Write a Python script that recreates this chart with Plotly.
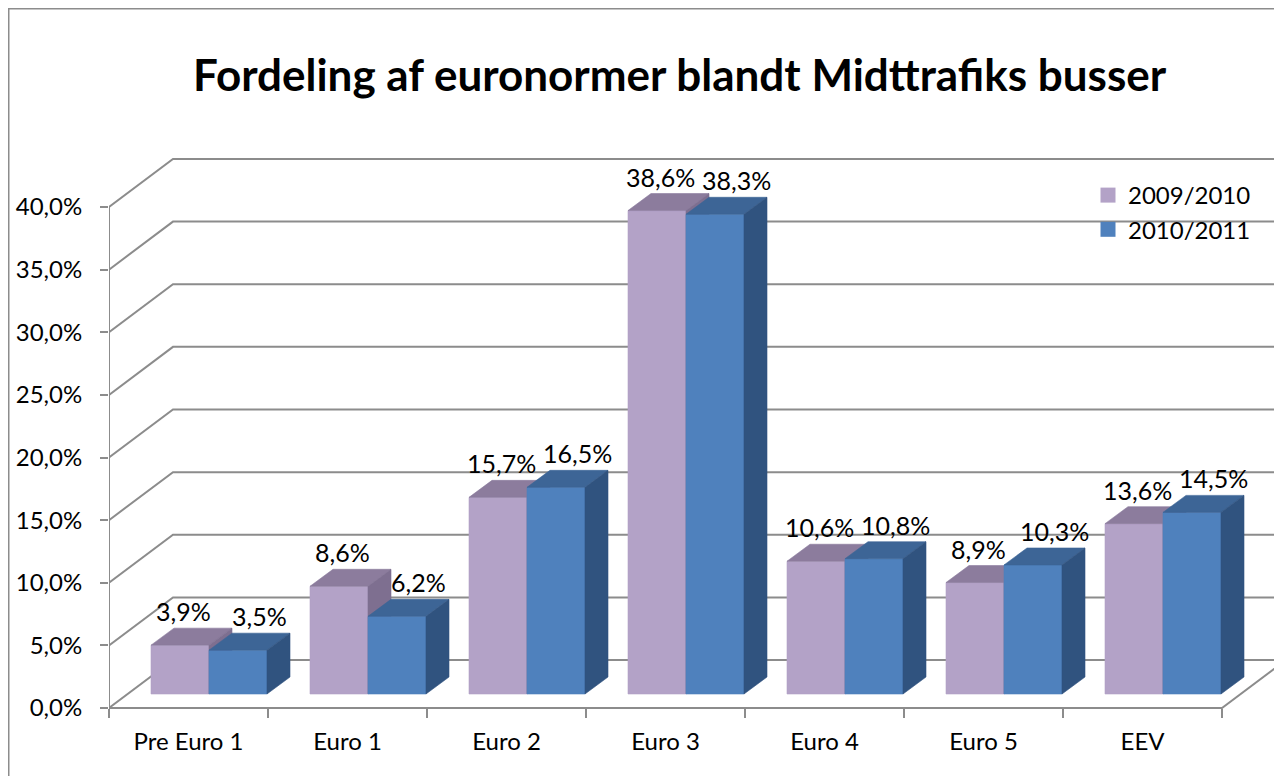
import plotly.graph_objects as go

# ---------------- data ----------------
categories = ["Pre Euro 1", "Euro 1", "Euro 2", "Euro 3", "Euro 4", "Euro 5", "EEV"]
series_names = ["2009/2010", "2010/2011"]
values_2009 = [3.9, 8.6, 15.7, 38.6, 10.6, 8.9, 13.6]
values_2010 = [3.5, 6.2, 16.5, 38.3, 10.8, 10.3, 14.5]
y_ticks = [0, 5, 10, 15, 20, 25, 30, 35, 40]
title_text = "Fordeling af euronormer blandt Midttrafiks busser"


def pct(v):
    return f"{v:.1f}%".replace(".", ",")


# ---------------- geometry (layout) ----------------
OFF = 8             # page body margin
W, H = 1282, 776
Y0 = 708 - OFF      # pixel row of the 0 % front line (figure coords)
L, R, T = 109 - OFF, 0, 150 - OFF
PB = Y0 + 12        # plot-area bottom
B = H - PB
PX = 159.0          # pixels per category unit
PY = 12.525         # pixels per percent
plot_w = W - L - R
plot_h = H - T - B
x_max = plot_w / PX
y_min = -(PB - Y0) / PY
y_max = y_min + plot_h / PY

WALL_DX = 64 / PX
WALL_DY = 48 / PY
FRONT_DX = 18 / PX
FRONT_DY = 14 / PY
BAR_DX = 23 / PX
BAR_DY = 17 / PY
BAR_W = 58 / PX
BAR_GAP = 24 / PX

FONT = "Lato"
GRID = "#8c8c8c"

colors = [
    dict(front="#B3A2C7", top="#8C7C9D", side="#7E6F90"),
    dict(front="#4F81BD", top="#3D6596", side="#30537F"),
]

fig = go.Figure()

# ---------------- walls / gridlines ----------------
shapes = []
for g in y_ticks:
    path = f"M 0,{g} L {WALL_DX},{g + WALL_DY} L {x_max + 1},{g + WALL_DY}"
    shapes.append(dict(type="path", xref="x", yref="y", path=path,
                       line=dict(color=GRID, width=2), layer="below"))
n = len(categories)
shapes.append(dict(type="path", xref="x", yref="y",
                   path=f"M 0,0 L {n},0 L {n + WALL_DX},{WALL_DY}",
                   line=dict(color=GRID, width=2), layer="below"))
shapes.append(dict(type="line", xref="x", yref="y", x0=0, x1=0, y0=0, y1=y_ticks[-1],
                   line=dict(color=GRID, width=2), layer="below"))
# outer chart border
shapes.append(dict(type="rect", xref="paper", yref="paper",
                   x0=(0.75 - L) / plot_w, x1=(W + 10 - L) / plot_w,
                   y0=-(H + 10 - PB) / plot_h, y1=(PB - 0.75) / plot_h,
                   line=dict(color="#8c8c8c", width=1.5), fillcolor="rgba(0,0,0,0)",
                   layer="below"))

# ---------------- 3D bars ----------------
annotations = []
for s, (name, vals) in enumerate(zip(series_names, [values_2009, values_2010])):
    fx, fy, tx, ty, sx, sy = [], [], [], [], [], []
    for i, v in enumerate(vals):
        x0 = i + FRONT_DX + BAR_GAP + s * BAR_W
        x1 = x0 + BAR_W
        b = FRONT_DY
        t = b + v
        fx += [x0, x1, x1, x0, x0, None]
        fy += [b, b, t, t, b, None]
        tx += [x0, x1, x1 + BAR_DX, x0 + BAR_DX, x0, None]
        ty += [t, t, t + BAR_DY, t + BAR_DY, t, None]
        sx += [x1, x1 + BAR_DX, x1 + BAR_DX, x1, x1, None]
        sy += [b, b + BAR_DY, t + BAR_DY, t, b, None]
        annotations.append(dict(
            x=(x0 + x1) / 2, y=t, xref="x", yref="y", text=pct(v), showarrow=False,
            xshift=3 if s == 0 else 21, yshift=34, yanchor="middle",
            font=dict(family=FONT, size=25, color="black")))
    c = colors[s]
    for xs, ys, col in [(fx, fy, c["front"]), (tx, ty, c["top"]), (sx, sy, c["side"])]:
        fig.add_trace(go.Scatter(x=xs, y=ys, mode="lines", fill="toself",
                                 fillcolor=col, line=dict(color=col, width=0.6),
                                 hoverinfo="skip", showlegend=False))

# legend entries
for s, name in enumerate(series_names):
    fig.add_trace(go.Scatter(x=[None], y=[None], mode="markers", name=name,
                             legendgroup=name,
                             marker=dict(symbol="square", size=15, color=colors[s]["front"])))

# title
annotations.append(dict(text=f"<b>{title_text}</b>", xref="paper", yref="paper",
                        x=(679.5 - OFF - L) / plot_w, y=(PB - (74 - OFF)) / plot_h,
                        xanchor="center", yanchor="middle", showarrow=False,
                        font=dict(family=FONT, size=44, color="black")))

fig.update_layout(
    width=W, height=H,
    margin=dict(l=L, r=R, t=T, b=B),
    paper_bgcolor="white", plot_bgcolor="white",
    shapes=shapes, annotations=annotations,
    font=dict(family=FONT, size=24, color="black"),
    showlegend=True,
    legend=dict(x=(1088 - OFF - L) / plot_w, y=(PB - (173 - OFF)) / plot_h,
                xanchor="left", yanchor="top", bgcolor="rgba(0,0,0,0)",
                font=dict(family=FONT, size=24, color="black"),
                tracegroupgap=11, traceorder="normal"),
    xaxis=dict(range=[0, x_max], showgrid=False, zeroline=False, showline=False,
               anchor="free", position=(PB - Y0) / plot_h,
               tickmode="array", tickvals=[i + 0.5 for i in range(n)], ticktext=categories,
               ticks="", ticklabelstandoff=17,
               tickfont=dict(family=FONT, size=24, color="black"),
               minor=dict(tickmode="array", tickvals=list(range(n + 1)), ticks="outside",
                          ticklen=9, tickwidth=2, tickcolor=GRID),
               fixedrange=True),
    yaxis=dict(range=[y_min, y_max], showgrid=False, zeroline=False, showline=False,
               tickmode="array", tickvals=y_ticks, ticktext=[pct(v) for v in y_ticks],
               ticks="outside", ticklen=8, tickwidth=2, tickcolor=GRID,
               ticklabelstandoff=13,
               tickfont=dict(family=FONT, size=24, color="black"),
               fixedrange=True),
)

fig.write_html("out.html")
